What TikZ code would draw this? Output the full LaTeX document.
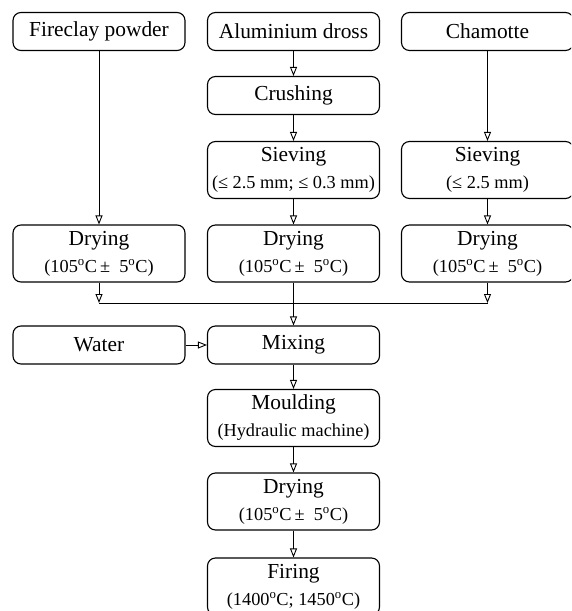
\documentclass[tikz,border=0pt]{standalone}
\usepackage{fontspec}
\setmainfont{Liberation Serif}
\usetikzlibrary{arrows.meta}
\newcommand{\dgc}{\textsuperscript{o}C}
\newcommand{\sub}[1]{{\fontsize{18.3}{21}\selectfont #1}}
\tikzset{
	box/.style={draw,line width=1.1pt,rounded corners=8pt,minimum width=172pt,
		minimum height=38pt,inner sep=0pt,align=center,
		font=\fontsize{21.4}{27}\selectfont},
	tallbox/.style={box,minimum height=57pt},
	arr/.style={line width=0.9pt,-{Triangle[open,length=9pt,width=7pt]}},
	link/.style={line width=0.9pt}
}
\begin{document}
\begin{tikzpicture}[x=1pt,y=-1pt]
		\useasboundingbox (0,0) rectangle (571,611);
		\clip (0,0) rectangle (571,611);
	
		% top row
		\node[box] (fireclay) at (99,31.5) {Fireclay powder};
		\node[box] (dross) at (293.5,31.5) {Aluminium dross};
		\node[box] (chamotte) at (487.5,31.5) {Chamotte};
	
		\node[box] (crushing) at (293.5,95.5) {Crushing};
		\node[tallbox] (sieveA) at (293.5,170) {Sieving\\\sub{(≤ 2.5 mm; ≤ 0.3 mm)}};
		\node[tallbox] (sieveB) at (487.5,170) {Sieving\\\sub{(≤ 2.5 mm)}};
	
		% drying row
		\node[tallbox] (dryA) at (99,253.5) {Drying\\\sub{(105\dgc\,±\ \ 5\dgc)}};
		\node[tallbox] (dryB) at (293.5,253.5) {Drying\\\sub{(105\dgc\,±\ \ 5\dgc)}};
		\node[tallbox] (dryC) at (487.5,253.5) {Drying\\\sub{(105\dgc\,±\ \ 5\dgc)}};
		\coordinate (merge) at (0,303);
	
		\node[box] (water) at (99,345) {Water};
		\node[box] (mixing) at (293.5,345) {Mixing};
		\node[tallbox] (moulding) at (293.5,418) {Moulding\\\sub{(Hydraulic machine)}};
		\node[tallbox] (dryD) at (293.5,501.5) {Drying\\\sub{(105\dgc\,±\ \ 5\dgc)}};
		\node[tallbox] (firing) at (293.5,586.5) {Firing\\\sub{(1400\dgc; 1450\dgc)}};
	
		% connectors
		\draw[arr] (fireclay) -- (dryA);
		\draw[arr] (dross) -- (crushing);
		\draw[arr] (crushing) -- (sieveA);
		\draw[arr] (sieveA) -- (dryB);
		\draw[arr] (chamotte) -- (sieveB);
		\draw[arr] (sieveB) -- (dryC);
	
		\draw[arr] (dryA.south) -- (dryA.south |- merge);
		\draw[arr] (dryC.south) -- (dryC.south |- merge);
		\draw[link] (dryA.south |- merge) -- (dryC.south |- merge);
		\draw[arr] (dryB) -- (mixing);
	
		\draw[arr] (water) -- (mixing);
		\draw[arr] (mixing) -- (moulding);
		\draw[arr] (moulding) -- (dryD);
		\draw[arr] (dryD) -- (firing);
	\end{tikzpicture}
\end{document}
